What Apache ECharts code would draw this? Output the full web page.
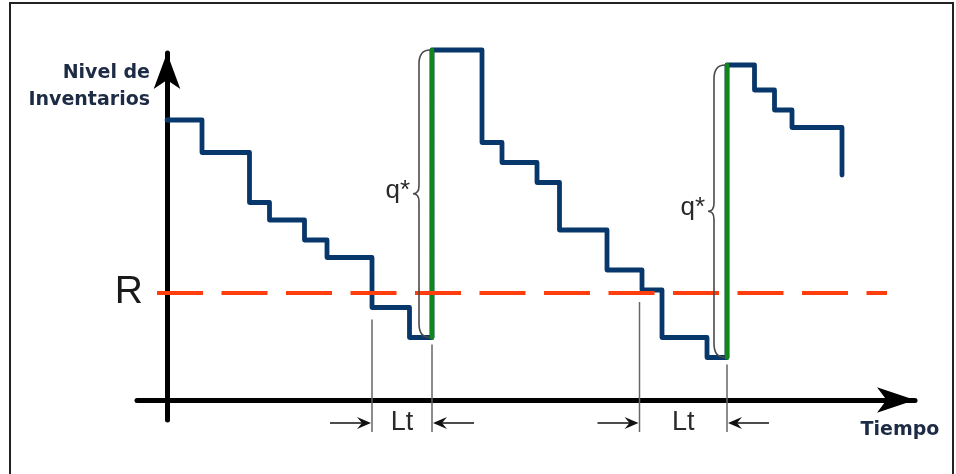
<!DOCTYPE html>
<html>
<head>
<meta charset="utf-8">
<title>Nivel de Inventarios</title>
<script src="https://cdn.jsdelivr.net/npm/echarts@6.0.0/dist/echarts.min.js"></script>
<style>
    html, body {margin: 0; padding: 0; background: #fff;}
    #inventoryChart {width: 956px; height: 474px;}
</style>
</head>
<body>
<div id="inventoryChart"></div>
<script>
// step line: time of each change and the level right after it
var stepTimes = [0, 7, 16.5, 20.5, 27.5, 32, 41, 48.5, 53, 63, 67, 74, 78.5, 88, 95, 99, 108, 112, 117.5, 121.5, 125, 135];
var stepLevels = [56, 49.5, 39.5, 36, 32, 28.5, 18.5, 12.5, 70, 51.5, 47.5, 43.5, 34, 26, 22, 12.5, 8.5, 67, 62, 58, 54.5, 45];

// punto de reorden
var reorderLevel = 21.5;
var reorderLineFrom = -2;
var reorderLineTo = 144;

// pedidos: cuando se pide, cuando llega, nivel en cada momento
var orderTimes = [41, 94.5];
var orderLevels = [18.5, 22];
var arrivalTimes = [53, 112];
var arrivalLevels = [12.5, 8.5];
var afterArrivalLevels = [70, 67];

var navy = '#08386b';
var green = '#12861a';
var red = '#ff3d0d';

var chart = echarts.init(document.getElementById('inventoryChart'));

var stepData = stepTimes.map(function (t, i) { return [t, stepLevels[i]]; });
var arrivalData = arrivalTimes.map(function (t, i) {
    return [t, arrivalLevels[i], afterArrivalLevels[i]];
});
var leadData = orderTimes.map(function (t, i) {
    return [t, arrivalTimes[i], orderLevels[i], arrivalLevels[i]];
});

function arrowHead(tipX, y, dir) {
    // dir 1 = points right, -1 = points left
    return {
        type: 'polygon',
        shape: {points: [[tipX, y], [tipX - dir * 14, y - 6], [tipX - dir * 9, y], [tipX - dir * 14, y + 6]]},
        style: {fill: '#111'}
    };
}

function renderLead(params, api) {
    var a = api.coord([api.value(0), api.value(2)]);
    var b = api.coord([api.value(1), api.value(3)]);
    var base = api.coord([0, 0])[1];
    var yBottom = base + 32;
    var yArrow = base + 23;
    var guide = {stroke: '#666', lineWidth: 1.5};
    var shaft = {stroke: '#111', lineWidth: 1.3};
    return {
        type: 'group',
        children: [
            {type: 'line', shape: {x1: a[0], y1: a[1] + 12, x2: a[0], y2: yBottom}, style: guide},
            {type: 'line', shape: {x1: b[0], y1: b[1] + 7, x2: b[0], y2: yBottom}, style: guide},
            {type: 'line', shape: {x1: a[0] - 42, y1: yArrow, x2: a[0] - 4, y2: yArrow}, style: shaft},
            arrowHead(a[0] - 1, yArrow, 1),
            {type: 'line', shape: {x1: b[0] + 42, y1: yArrow, x2: b[0] + 4, y2: yArrow}, style: shaft},
            arrowHead(b[0] + 1, yArrow, -1),
            {
                type: 'text',
                x: (a[0] + b[0]) / 2,
                y: yArrow,
                style: {
                    text: 'Lt', fill: '#2a2a2a', fontSize: 27,
                    fontFamily: 'Liberation Sans', align: 'center', verticalAlign: 'middle'
                }
            }
        ]
    };
}

// green replenishment line
function renderArrival(params, api) {
    var bottom = api.coord([api.value(0), api.value(1)]);
    var top = api.coord([api.value(0), api.value(2)]);
    return {
        type: 'line',
        shape: {x1: bottom[0], y1: bottom[1], x2: top[0], y2: top[1]},
        style: {stroke: green, lineWidth: 4.5, lineCap: 'round'}
    };
}

// brace + q* label left of the green line
function renderBrace(params, api) {
    var bottom = api.coord([api.value(0), api.value(1)]);
    var top = api.coord([api.value(0), api.value(2)]);
    var x0 = top[0] - 2;
    var y1 = top[1];
    var y2 = bottom[1];
    var ym = (y1 + y2) / 2;
    var xv = x0 - 11;
    var xp = x0 - 17;
    var d = 'M' + x0 + ',' + y1 +
        ' Q' + xv + ',' + y1 + ' ' + xv + ',' + (y1 + 14) +
        ' L' + xv + ',' + (ym - 8) +
        ' Q' + xv + ',' + ym + ' ' + xp + ',' + ym +
        ' Q' + xv + ',' + ym + ' ' + xv + ',' + (ym + 8) +
        ' L' + xv + ',' + (y2 - 14) +
        ' Q' + xv + ',' + y2 + ' ' + x0 + ',' + y2;
    return {
        type: 'group',
        children: [
            {type: 'path', shape: {pathData: d}, style: {fill: 'none', stroke: '#4a4a4a', lineWidth: 1.6}},
            {
                type: 'text',
                x: xp - 3,
                y: ym - 3,
                style: {
                    text: 'q*', fill: '#2a2a2a', fontSize: 26,
                    fontFamily: 'Liberation Sans', align: 'right', verticalAlign: 'middle'
                }
            }
        ]
    };
}

var option = {
    animation: false,
    backgroundColor: '#fff',
    grid: {left: 137, right: 41, top: 53, bottom: 54},
    graphic: [{
        type: 'rect',
        shape: {x: 10, y: 3, width: 943, height: 490},
        style: {fill: null, stroke: '#222', lineWidth: 2},
        silent: true
    }],
    xAxis: {
        type: 'value',
        min: -6,
        max: 149.6,
        name: 'Tiempo',
        nameLocation: 'end',
        nameGap: -15,
        nameTextStyle: {
            color: '#1d2b45', fontSize: 19, fontWeight: 'bold', fontFamily: 'DejaVu Sans',
            align: 'center', verticalAlign: 'top', lineHeight: 19, padding: [21, 0, 0, 0]
        },
        axisLine: {
            onZero: true,
            symbol: ['none', 'arrow'],
            symbolSize: [19, 38],
            lineStyle: {color: '#000', width: 5}
        },
        axisTick: {show: false},
        axisLabel: {show: false},
        splitLine: {show: false}
    },
    yAxis: {
        type: 'value',
        min: -4,
        max: 69.4,
        name: 'Nivel de\nInventarios',
        nameLocation: 'end',
        nameGap: -34,
        nameTextStyle: {
            color: '#1d2b45', fontSize: 19, fontWeight: 'bold', fontFamily: 'DejaVu Sans',
            align: 'right', verticalAlign: 'middle', lineHeight: 27, padding: [0, 17, 0, 0]
        },
        axisLine: {
            onZero: true,
            symbol: ['none', 'arrow'],
            symbolSize: [20, 36],
            lineStyle: {color: '#000', width: 5}
        },
        axisTick: {show: false},
        axisLabel: {show: false},
        splitLine: {show: false}
    },
    series: [
        {
            name: 'R',
            type: 'line',
            data: [],
            z: 1,
            clip: false,
            markLine: {
                silent: true,
                symbol: 'none',
                lineStyle: {color: red, width: 4, type: [46, 18.5]},
                label: {
                    show: true, position: 'start', distance: 14, formatter: 'R',
                    color: '#1a1a1a', fontSize: 39, fontFamily: 'Liberation Sans'
                },
                data: [[{coord: [reorderLineFrom, reorderLevel]}, {coord: [reorderLineTo, reorderLevel]}]]
            }
        },
        {
            name: 'Inventario',
            type: 'line',
            step: 'end',
            data: stepData,
            showSymbol: false,
            symbol: 'none',
            clip: false,
            z: 3,
            lineStyle: {color: navy, width: 4.8, cap: 'round', join: 'round'}
        },
        {
            name: 'Pedido',
            type: 'custom',
            renderItem: renderArrival,
            data: arrivalData,
            clip: false,
            z: 4,
            silent: true
        },
        {
            name: 'q*',
            type: 'custom',
            renderItem: renderBrace,
            data: arrivalData,
            clip: false,
            z: 5,
            silent: true
        },
        {
            name: 'Lt',
            type: 'custom',
            renderItem: renderLead,
            data: leadData,
            clip: false,
            z: 5,
            silent: true
        }
    ]
};

chart.setOption(option);
</script>
</body>
</html>
